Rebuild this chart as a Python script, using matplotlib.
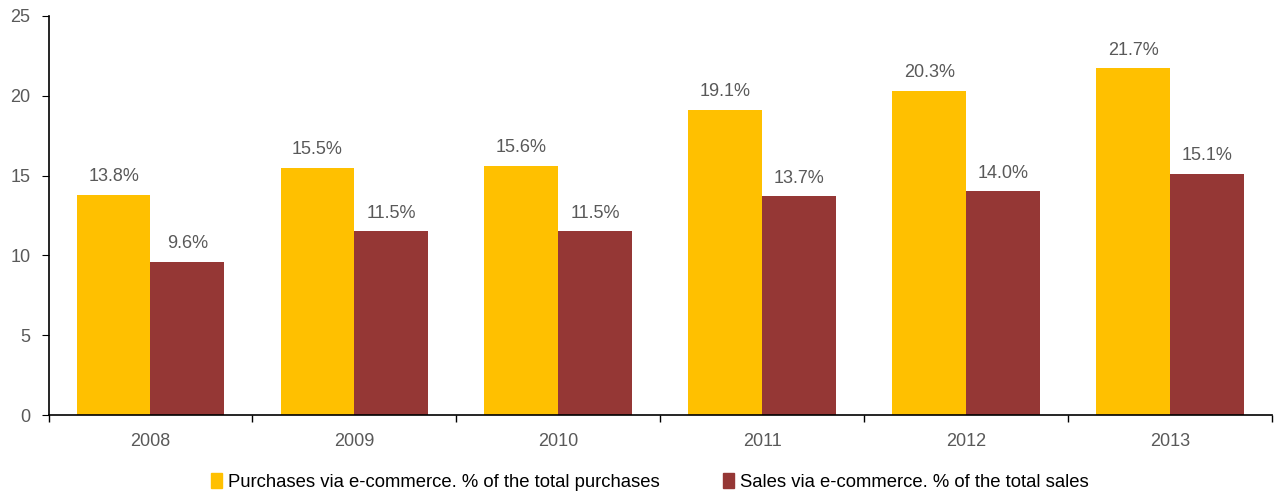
import numpy as np
import matplotlib.pyplot as plt
from matplotlib.patches import Patch

plt.rcParams["font.family"] = ["Liberation Sans", "DejaVu Sans"]

years = ["2008", "2009", "2010", "2011", "2012", "2013"]
purchases = [13.8, 15.5, 15.6, 19.1, 20.3, 21.7]
sales = [9.6, 11.5, 11.5, 13.7, 14.0, 15.1]
yticks = [0, 5, 10, 15, 20, 25]

c_buy = "#FFC000"
c_sell = "#953735"
grey = "#595959"

fig = plt.figure(figsize=(12.77, 4.93), dpi=100)
ax = fig.add_axes([0.038, 0.158, 0.958, 0.810])

x = np.arange(len(years))
w = 0.362
b1 = ax.bar(x - w / 2, purchases, w, color=c_buy)
b2 = ax.bar(x + w / 2, sales, w, color=c_sell)

for bars, vals in ((b1, purchases), (b2, sales)):
    for r, v in zip(bars, vals):
        ax.text(r.get_x() + r.get_width() / 2, v + 0.6, f"{v:.1f}%",
                ha="center", va="bottom", fontsize=13, color=grey)

ax.set_xlim(-0.5, len(years) - 0.5)
ax.set_ylim(0, 25)
ax.set_yticks(yticks)
ax.set_xticks(x)
ax.set_xticklabels(years)
ax.set_xticks(np.arange(len(years) + 1) - 0.5, minor=True)
ax.tick_params(axis="x", which="major", length=0, pad=13, labelsize=13, labelcolor=grey)
ax.tick_params(axis="x", which="minor", length=5, direction="out", width=1)
ax.tick_params(axis="y", length=5, direction="out", labelsize=13, labelcolor=grey, pad=8)
for s in ("top", "right"):
    ax.spines[s].set_visible(False)
ax.spines["left"].set_linewidth(1.2)
ax.spines["bottom"].set_linewidth(1.2)

handles = [Patch(color=c_buy), Patch(color=c_sell)]
labels = ["Purchases via e-commerce. % of the total purchases",
          "Sales via e-commerce. % of the total sales"]
fig.legend(handles, labels, loc="center", bbox_to_anchor=(0.509, 0.022), ncol=2,
           frameon=False, handlelength=0.6, handleheight=0.8, handletextpad=0.35,
           columnspacing=3.4, prop={"size": 13.3})

fig.savefig("out.png", dpi=100)
